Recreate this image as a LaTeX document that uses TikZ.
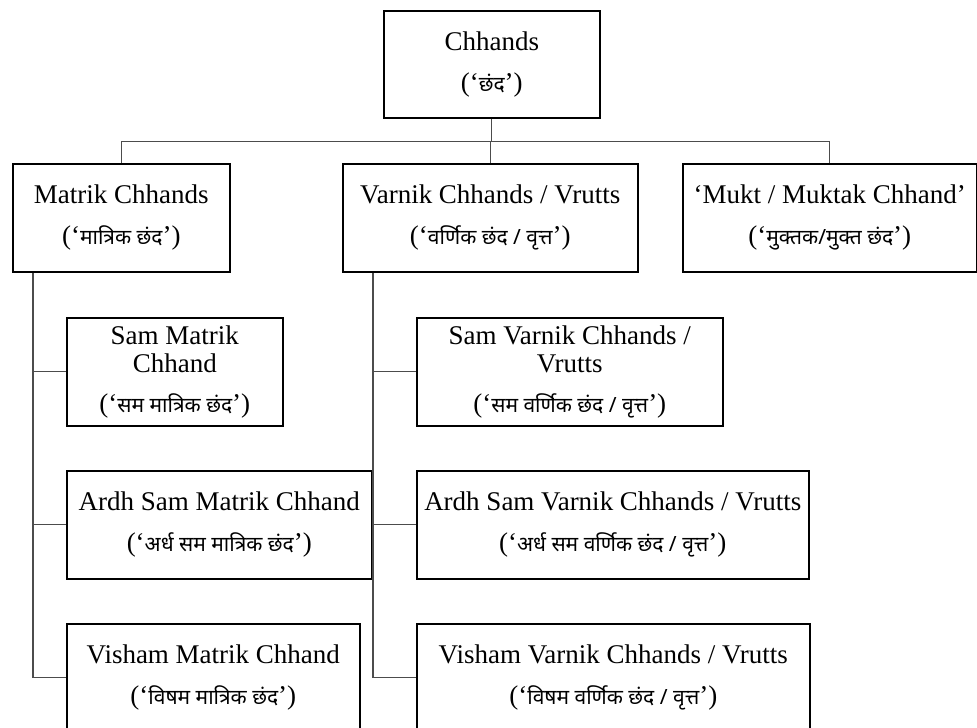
\documentclass[tikz,border=0pt]{standalone}
\usepackage{fontspec}
\setmainfont{Liberation Serif}
\newfontfamily\devfont[Script=Devanagari]{Noto Sans}
\newcommand{\hin}[1]{(‘{\devfont\fontsize{21}{28}\selectfont #1}’)}

\begin{document}
\begin{tikzpicture}[x=1pt,y=-1pt,
  box/.style={draw=black, line width=1.6pt, rectangle, inner sep=0pt,
    anchor=north west, align=center, minimum height=108pt,
    font=\fontsize{27}{28}\selectfont},
  link/.style={draw=black!70, line width=1.1pt}]
  \useasboundingbox (0,0) rectangle (977,728);

  % top level
  \node[box, minimum width=216pt, minimum height=107pt] (root) at (383,10)
    {Chhands\\[13pt]\hin{छंद}};

  % three main families
  \node[box, minimum width=217pt] (matrik) at (12,163)
    {Matrik Chhands\\[13pt]\hin{मात्रिक छंद}};
  \node[box, minimum width=295pt] (varnik) at (342,163)
    {Varnik Chhands / Vrutts\\[13pt]\hin{वर्णिक छंद / वृत्त}};
  \node[box, minimum width=294pt] (mukt) at (682,163)
    {‘Mukt / Muktak Chhand’\\[13pt]\hin{मुक्तक/मुक्त छंद}};

  % matrik sub-types
  \node[box, minimum width=216pt] (samM) at (66,317)
    {Sam Matrik\\Chhand\\[12pt]\hin{सम मात्रिक छंद}};
  \node[box, minimum width=305pt] (ardhM) at (66,470)
    {Ardh Sam Matrik Chhand\\[13pt]\hin{अर्ध सम मात्रिक छंद}};
  \node[box, minimum width=293pt] (vishM) at (66,623)
    {Visham Matrik Chhand\\[13pt]\hin{विषम मात्रिक छंद}};

  % varnik sub-types
  \node[box, minimum width=306pt] (samV) at (416,317)
    {Sam Varnik Chhands /\\Vrutts\\[12pt]\hin{सम वर्णिक छंद / वृत्त}};
  \node[box, minimum width=392pt] (ardhV) at (416,470)
    {Ardh Sam Varnik Chhands / Vrutts\\[13pt]\hin{अर्ध सम वर्णिक छंद / वृत्त}};
  \node[box, minimum width=393pt] (vishV) at (416,623)
    {Visham Varnik Chhands / Vrutts\\[13pt]\hin{विषम वर्णिक छंद / वृत्त}};

  % root to families
  \draw[link] (root.south) -- ++(0,23) coordinate (hub);
  \draw[link] (matrik.north) |- (hub) -| (mukt.north);
  \draw[link] (varnik.north) -- (varnik.north |- hub);

  % matrik trunk
  \coordinate (mt) at ([xshift=21pt]matrik.south west);
  \draw[link] (mt) |- (vishM.west);
  \draw[link] (samM.west) -- (samM.west -| mt);
  \draw[link] (ardhM.west) -- (ardhM.west -| mt);

  % varnik trunk
  \coordinate (vt) at ([xshift=31pt]varnik.south west);
  \draw[link] (vt) |- (vishV.west);
  \draw[link] (samV.west) -- (samV.west -| vt);
  \draw[link] (ardhV.west) -- (ardhV.west -| vt);
\end{tikzpicture}
\end{document}
